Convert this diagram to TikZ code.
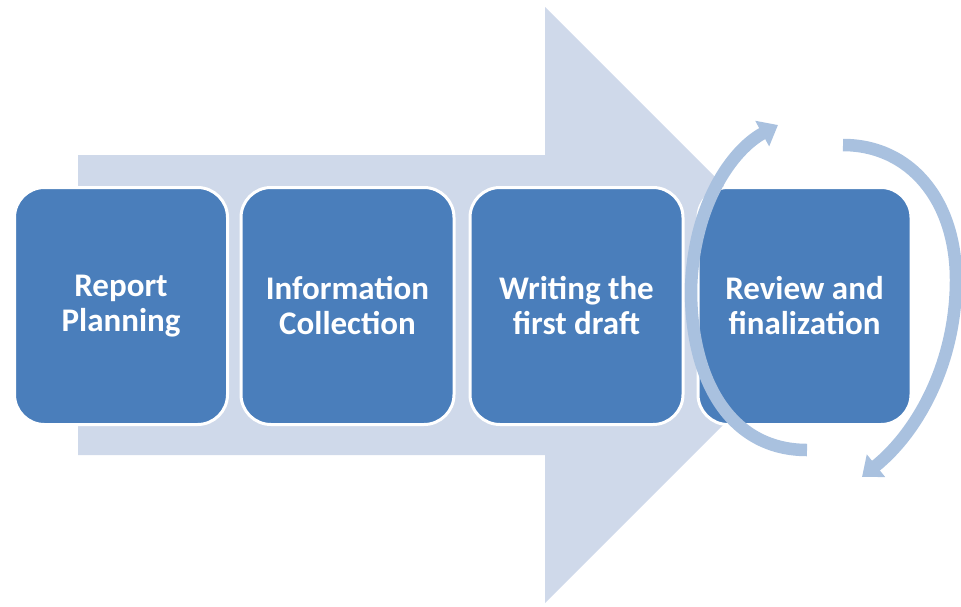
\documentclass[tikz,border=0pt]{standalone}
\usepackage{fontspec}
\setmainfont{Carlito}
\usetikzlibrary{arrows.meta}
\definecolor{boxblue}{HTML}{4A7EBB}
\definecolor{bigarrow}{HTML}{CFD9EA}
\definecolor{cyclecol}{HTML}{A9C1DF}
\tikzset{
  stepbox/.style={draw=white, line width=3pt, fill=boxblue, rounded corners=30pt,
    minimum width=213pt, minimum height=237pt, text=white, align=center,
    font=\fontsize{33}{35}\selectfont\bfseries, inner sep=0pt},
  cyclearrow/.style={draw=cyclecol, line width=12.5pt,
    -{Triangle[width=28pt,length=18pt]}}
}
\begin{document}
\begin{tikzpicture}[x=1pt,y=-1pt]
\useasboundingbox (0,0) rectangle (961,606);
% background arrow
\fill[bigarrow] (78,155) -- (545,155) -- (545,7) -- (843,305) -- (545,603) -- (545,455) -- (78,455) -- cycle;
% boxes
\node[stepbox] (b1) at (121,306) {Report\\Planning};
\node[stepbox] (b2) at (347.5,306) {Information\\Collection};
\node[stepbox] (b3) at (576.5,306) {Writing the\\first draft};
\node[stepbox] (b4) at (804.5,306) {Review and\\finalization};
% cycle arrows
\coordinate (l0) at (807,450);
\coordinate (l1) at (691,290);
\coordinate (l2) at (778,125);
\coordinate (r0) at (843,145);
\coordinate (r1) at (956,280);
\coordinate (r2) at (862,477);
\draw[cyclearrow] (l0) .. controls (730,450) and (691,380) .. (l1)
  .. controls (693,205) and (732,150) .. (l2);
\draw[cyclearrow] (r0) .. controls (910,145) and (956,200) .. (r1)
  .. controls (956,360) and (920,430) .. (r2);
\end{tikzpicture}
\end{document}
